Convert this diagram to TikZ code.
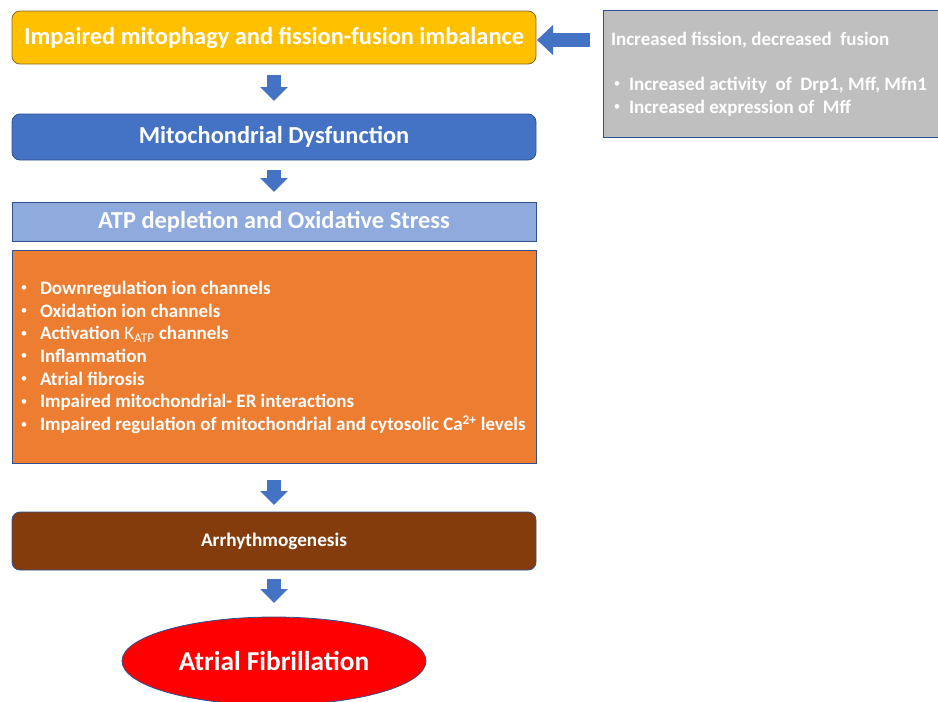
\documentclass[tikz,border=0pt]{standalone}
\usepackage{fontspec}
\setmainfont{Carlito}
\usetikzlibrary{arrows.meta,shapes.geometric,positioning}

\definecolor{mitoyellow}{HTML}{FFC000}
\definecolor{mitoblue}{HTML}{4472C4}
\definecolor{mitolight}{HTML}{8FAADC}
\definecolor{mitoorange}{HTML}{ED7D31}
\definecolor{mitobrown}{HTML}{843C0C}
\definecolor{mitogray}{HTML}{BFBFBF}
\definecolor{edgeblue}{HTML}{2F528F}
\definecolor{edgegold}{HTML}{7F6A2A}

\begin{document}
\begin{tikzpicture}[x=1pt,y=-1pt]

\def\fsz#1{\fontsize{#1}{#1}\selectfont}
\def\rowgap{22.67}

\tikzset{
        every node/.style={font=\bfseries, text=white, inner sep=0pt, outer sep=0pt},
        box/.style={draw=edgeblue, line width=.8pt, minimum width=524pt, align=center},
        rbox/.style={box, rounded corners=8pt},
        item/.style={anchor=west, text height=16pt, text depth=3pt, font=\bfseries\fsz{19}},
        dot/.style={font=\fsz{13}},
        flow/.style={draw=mitoblue, line width=14pt, -{Triangle[width=27pt,length=14pt]}}
}

\useasboundingbox (0,0) rectangle (938,702);

% main column
\node[rbox, draw=edgegold, fill=mitoyellow, minimum height=53pt, font=\bfseries\fsz{24.4}] (yel) at (274,37.5) {Impaired mitophagy and fission-fusion imbalance};
\node[rbox, fill=mitoblue, minimum height=46pt, font=\bfseries\fsz{24.4}] (mito) [below=50pt of yel] {Mitochondrial Dysfunction};
\node[box, fill=mitolight, minimum height=39pt, font=\bfseries\fsz{24.4}] (atp) [below=42pt of mito] {ATP depletion and Oxidative Stress};
\node[box, fill=mitoorange, minimum height=213pt] (cons) [below=9pt of atp] {};
\node[rbox, fill=mitobrown, minimum height=58pt, font=\bfseries\fsz{19.2}] (arr) [below=49pt of cons] {Arrhythmogenesis};
\node[ellipse, draw=edgeblue, line width=.8pt, fill=red, minimum width=304pt, minimum height=88pt, font=\bfseries\fsz{27.3}] (af) [below=47pt of arr] {Atrial Fibrillation};

\foreach \i/\l in {0/Downregulation ion channels,
                   1/Oxidation ion channels,
                   2/{Activation {\mdseries K\textsubscript{ATP}} channels},
                   3/Inflammation,
                   4/Atrial fibrosis,
                   5/Impaired mitochondrial- ER interactions,
                   6/{Impaired regulation of mitochondrial and cytosolic Ca\textsuperscript{2+} levels}} {
     \node[dot] (cb\i) at (24,289+\rowgap*\i) {\textbullet};
     \node[item] (ct\i) at (40,288+\rowgap*\i) {\l};
}

% side box
\node[draw=edgeblue, line width=.8pt, fill=mitogray, anchor=north west, minimum width=345pt, minimum height=127pt] (side) at (603,10) {};
\node[item] (st) at (611,39) {Increased fission, decreased\ \ fusion};
\foreach \i/\l in {0/{Increased activity\ \ of\ \ Drp1, Mff, Mfn1},
                   1/{Increased expression of\ \ Mff}} {
     \node[dot] (sb\i) at (617,85+23*\i) {\textbullet};
     \node[item] (si\i) at (629,84+23*\i) {\l};
}

% block arrows
\coordinate (sidein) at ([yshift=-2.5pt]side.west |- yel.east);
\draw[flow, shorten <=11pt, shorten >=13pt] (yel.south) -- (mito.north);
\draw[flow, shorten <=10pt, shorten >=10pt] (mito.south) -- (atp.north);
\draw[flow, shorten <=17pt, shorten >=7pt] (cons.south) -- (arr.north);
\draw[flow, shorten <=9pt, shorten >=14pt] (arr.south) -- (af.north);
\draw[flow, -{Triangle[width=29pt,length=16pt]}, shorten <=13pt, shorten >=1pt] (sidein) -- (yel.east |- sidein);

\end{tikzpicture}
\end{document}
